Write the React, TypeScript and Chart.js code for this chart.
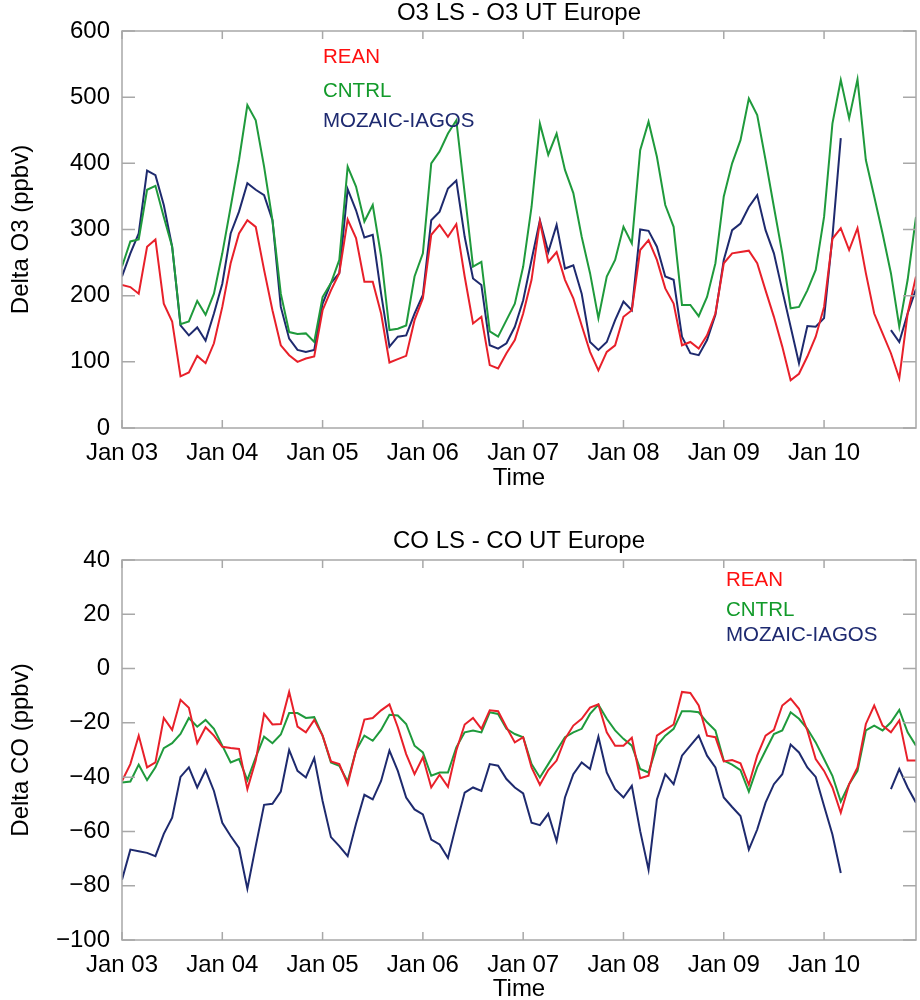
import { useEffect, useRef } from 'react'
import { Chart, registerables } from 'chart.js'

Chart.register(...registerables)

// month index 0 = Jan 2003 ... 95 = Dec 2010
const yearTicks = [0, 12, 24, 36, 48, 60, 72, 84]
const yearLabels = ['Jan 03', 'Jan 04', 'Jan 05', 'Jan 06', 'Jan 07', 'Jan 08', 'Jan 09', 'Jan 10']
const seriesNames = ['REAN', 'CNTRL', 'MOZAIC-IAGOS']

// O3 LS - O3 UT (ppbv)
const o3Rean = [
  216, 213, 203, 274, 285, 188, 161, 78, 84, 109, 98, 128,
  183, 249, 294, 314, 304, 239, 178, 125, 110, 100, 105, 108,
  178, 208, 234, 315, 287, 221, 221, 173, 99, 104, 109, 163,
  196, 292, 307, 289, 308, 229, 158, 168, 95, 90, 113, 133,
  173, 224, 312, 251, 266, 224, 196, 155, 115, 87, 115, 125,
  168, 178, 269, 284, 254, 211, 188, 125, 130, 120, 140, 173,
  249, 264, 266, 268, 249, 208, 168, 123, 72, 82, 108, 138,
  183, 286, 302, 269, 302, 234, 173, 143, 113, 75, 173, 229,
]
const o3Cntrl = [
  244, 282, 285, 360, 366, 319, 274, 157, 161, 192, 171, 203,
  264, 334, 405, 488, 465, 395, 314, 203, 145, 142, 143, 130,
  198, 219, 254, 395, 365, 312, 337, 260, 148, 150, 155, 229,
  264, 400, 418, 445, 465, 355, 244, 251, 146, 138, 163, 188,
  244, 334, 460, 413, 445, 390, 355, 289, 234, 166, 229, 254,
  304, 279, 420, 463, 410, 337, 304, 186, 186, 169, 198, 249,
  350, 400, 435, 498, 473, 405, 334, 264, 181, 183, 208, 239,
  319, 460, 526, 468, 527, 405, 350, 294, 234, 153, 224, 319,
]
const o3Mozaic = [
  229, 264, 294, 389, 382, 337, 274, 155, 140, 152, 132, 173,
  218, 294, 327, 370, 360, 352, 314, 183, 135, 118, 115, 118,
  188, 219, 234, 361, 329, 288, 292, 203, 123, 138, 140, 173,
  201, 314, 327, 362, 374, 289, 226, 216, 125, 120, 128, 153,
  193, 254, 314, 266, 307, 241, 246, 203, 130, 118, 130, 163,
  191, 178, 300, 298, 274, 229, 224, 138, 113, 110, 133, 171,
  254, 299, 309, 334, 352, 299, 264, 208, 153, 98, 154, 153,
  166, 289, 438, null, null, null, null, null, 148, 130, 173, 210,
]

// CO LS - CO UT (ppbv)
const coRean = [
  -41.4, -35.2, -24.7, -36.4, -34.6, -18.2, -22.6, -11.5, -14.4, -27.5, -21.6, -24.7,
  -28.8, -29.3, -29.6, -44.4, -33.9, -16.7, -20.6, -20.4, -8.6, -21.4, -23.5, -18.9,
  -24.7, -34.2, -35.2, -42.6, -30.2, -18.8, -18.2, -15.4, -13.2, -21.6, -31.5, -38.9,
  -32.7, -43.8, -39.1, -43.6, -30.2, -20.6, -18.2, -22.2, -15.4, -15.7, -21.6, -27.2,
  -25.3, -36.4, -42.8, -37.4, -33.9, -25.9, -21.0, -18.5, -14.4, -13.2, -23.5, -28.4,
  -28.4, -25.5, -40.4, -39.5, -24.7, -22.6, -20.6, -8.6, -9.0, -13.6, -24.7, -25.3,
  -34.2, -33.7, -34.9, -42.8, -32.1, -24.7, -22.6, -13.6, -11.1, -14.8, -22.8, -33.3,
  -37.7, -43.8, -53.1, -42.6, -36.4, -20.4, -13.6, -21.0, -23.5, -19.1, -33.9, -33.9,
]
const coCntrl = [
  -42.0, -41.6, -35.4, -41.1, -36.4, -29.3, -27.5, -24.1, -18.2, -21.4, -18.9, -22.2,
  -28.4, -34.6, -33.3, -41.1, -32.7, -25.1, -27.5, -24.3, -16.4, -16.4, -18.2, -17.9,
  -24.7, -34.6, -35.8, -41.6, -30.2, -24.7, -26.6, -22.6, -17.0, -17.3, -20.4, -28.4,
  -30.9, -39.5, -38.3, -38.3, -29.0, -23.5, -22.8, -23.5, -16.1, -16.7, -22.2, -24.1,
  -25.3, -35.2, -40.1, -35.2, -30.2, -25.3, -23.5, -22.2, -16.7, -13.3, -18.5, -22.8,
  -25.9, -28.4, -37.0, -38.3, -28.4, -24.7, -22.2, -15.7, -15.7, -16.1, -19.8, -22.8,
  -33.9, -35.4, -37.4, -45.3, -36.4, -30.2, -24.1, -22.8, -16.1, -18.5, -22.2, -27.2,
  -33.3, -39.5, -49.0, -42.6, -37.7, -22.8, -21.0, -22.8, -19.8, -15.2, -23.5, -28.4,
]
const coMozaic = [
  -77.8, -66.7, -67.3, -67.9, -69.1, -60.9, -54.9, -39.9, -36.4, -43.8, -37.4, -45.1,
  -56.8, -61.7, -66.1, -81.1, -65.4, -50.2, -49.8, -45.3, -30.0, -37.7, -40.1, -33.0,
  -48.8, -62.1, -65.4, -69.1, -57.2, -46.5, -48.2, -41.4, -30.2, -37.7, -47.5, -51.9,
  -53.7, -63.0, -64.8, -69.8, -57.4, -45.7, -43.8, -45.1, -35.2, -35.8, -40.7, -43.8,
  -46.0, -56.8, -57.7, -53.5, -63.6, -47.5, -38.9, -34.6, -37.0, -25.1, -38.3, -44.4,
  -47.5, -43.2, -59.9, -74.1, -48.2, -38.9, -42.6, -32.1, -28.4, -24.7, -32.1, -36.4,
  -47.5, -51.0, -54.3, -66.7, -59.3, -49.4, -42.6, -38.9, -28.0, -30.9, -36.4, -39.9,
  -50.6, -61.1, -75.3, null, null, null, null, null, -44.4, -37.0, -43.8, -49.4,
]

const COLORS = ['#e8202a', '#1f9a3c', '#1e2a6e']
const LEGEND_COLORS = ['#ff1010', '#129a2a', '#1e2a70']
const FONT = '"Liberation Sans", Arial, Helvetica, sans-serif'
const FRAME = '#a8a8a8'
const TXT = 24

// frame with inward ticks on all four sides, title and text legend
const framePlugin = {
  id: 'frame',
  afterDraw(chart: any, _args: any, opts: any) {
    const { ctx, chartArea } = chart
    const { left, right, top, bottom } = chartArea
    const xs = chart.scales.x
    const ys = chart.scales.y
    ctx.save()
    ctx.strokeStyle = FRAME
    ctx.lineWidth = 1.5
    ctx.strokeRect(left, top, right - left, bottom - top)
    ctx.beginPath()
    ys.ticks.forEach((t: any) => {
      const py = ys.getPixelForValue(t.value)
      ctx.moveTo(left, py); ctx.lineTo(left + 13, py)
      ctx.moveTo(right, py); ctx.lineTo(right - 13, py)
    })
    xs.ticks.forEach((t: any) => {
      const px = xs.getPixelForValue(t.value)
      ctx.moveTo(px, bottom); ctx.lineTo(px, bottom - 8)
      ctx.moveTo(px, top); ctx.lineTo(px, top + 8)
    })
    ctx.stroke()

    ctx.fillStyle = '#000'
    ctx.font = `${TXT}px ${FONT}`
    ctx.textAlign = 'center'
    ctx.textBaseline = 'alphabetic'
    ctx.fillText(opts.title, (left + right) / 2, opts.titleY)

    ctx.font = `20.5px ${FONT}`
    ctx.textAlign = 'left'
    ctx.textBaseline = 'middle'
    seriesNames.forEach((name, i) => {
      ctx.fillStyle = LEGEND_COLORS[i]
      ctx.fillText(name, opts.legendX, opts.legendY[i])
    })
    ctx.restore()
  },
}

type PanelProps = {
  series: (number | null)[][]
  yMin: number
  yMax: number
  yStep: number
  yTitle: string
  title: string
  titleY: number
  legendX: number
  legendY: number[]
  padTop: number
  xHeight: number
  xTitlePad: number
  top: number
}

function Panel(p: PanelProps) {
  const canvasRef = useRef<HTMLCanvasElement | null>(null)

  useEffect(() => {
    if (!canvasRef.current) return
    const chart = new Chart(canvasRef.current, {
      type: 'line',
      data: {
        datasets: p.series.map((vals, k) => ({
          label: seriesNames[k],
          data: vals.map((v, i) => ({ x: i, y: v })),
          borderColor: COLORS[k],
          borderWidth: 2,
          pointRadius: 0,
          tension: 0,
          spanGaps: false,
        })),
      },
      options: {
        responsive: false,
        devicePixelRatio: 1,
        animation: false,
        layout: { padding: { top: p.padTop, right: 4, left: 0, bottom: 0 } },
        plugins: {
          legend: { display: false },
          tooltip: { enabled: false },
          frame: { title: p.title, titleY: p.titleY, legendX: p.legendX, legendY: p.legendY },
        } as any,
        scales: {
          x: {
            type: 'linear',
            min: 0,
            max: 95,
            grid: { display: false, drawTicks: false },
            border: { display: false },
            afterBuildTicks: (s: any) => { s.ticks = yearTicks.map(v => ({ value: v })) },
            afterFit: (s: any) => { s.height = p.xHeight; s.paddingLeft = 0; s.paddingRight = 0 },
            ticks: {
              autoSkip: false,
              maxRotation: 0,
              padding: 11,
              color: '#000',
              font: { family: FONT, size: TXT },
              callback: (_v: any, idx: number) => yearLabels[idx],
            },
            title: {
              display: true,
              text: 'Time',
              color: '#000',
              font: { family: FONT, size: TXT },
              padding: { top: 0, bottom: p.xTitlePad },
            },
          },
          y: {
            min: p.yMin,
            max: p.yMax,
            grid: { display: false, drawTicks: false },
            border: { display: false },
            afterFit: (s: any) => { s.width = 122 },
            ticks: {
              stepSize: p.yStep,
              padding: 12,
              color: '#000',
              font: { family: FONT, size: TXT },
              callback: (v: any) => (v < 0 ? '\u2212' + Math.abs(v) : String(v)),
            },
            title: {
              display: true,
              text: p.yTitle,
              color: '#000',
              font: { family: FONT, size: TXT },
              padding: { top: 7, bottom: 0 },
            },
          },
        },
      },
      plugins: [framePlugin],
    } as any)
    return () => chart.destroy()
  }, [])

  return (
    <div style={{ position: 'fixed', left: 0, top: p.top, width: 920, height: 500, background: '#fff' }}>
      <canvas ref={canvasRef} width={920} height={500}></canvas>
    </div>
  )
}

export default function App() {
  return (
    <div>
      <Panel
        series={[o3Rean, o3Cntrl, o3Mozaic]}
        yMin={0} yMax={600} yStep={100}
        yTitle="Delta O3 (ppbv)"
        title="O3 LS - O3 UT Europe"
        titleY={20}
        legendX={323} legendY={[57, 91, 121]}
        padTop={31} xHeight={72} xTitlePad={7} top={0}
      />
      <Panel
        series={[coRean, coCntrl, coMozaic]}
        yMin={-100} yMax={40} yStep={20}
        yTitle="Delta CO (ppbv)"
        title="CO LS - CO UT Europe"
        titleY={48}
        legendX={726} legendY={[80, 110, 135]}
        padTop={60} xHeight={60} xTitlePad={-4} top={500}
      />
    </div>
  )
}
